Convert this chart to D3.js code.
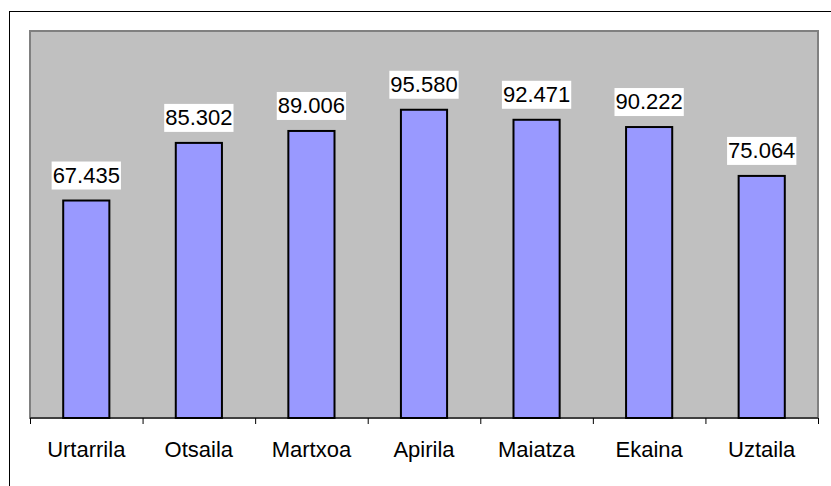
<!DOCTYPE html>
<html><head><meta charset="utf-8">
<script src="https://cdn.jsdelivr.net/npm/d3@7"></script>
<style>body{margin:0;background:#fff}svg{display:block}</style>
</head><body><svg width="831" height="486"></svg>
<script>
const categories = ["Urtarrila","Otsaila","Martxoa","Apirila","Maiatza","Ekaina","Uztaila"];
const values = [67435, 85302, 89006, 95580, 92471, 90222, 75064];
const valueLabels = ["67.435","85.302","89.006","95.580","92.471","90.222","75.064"];
const yDomain = [0, 120000];

const svg = d3.select("svg");
const m = {left:30, right:818, top:31, bottom:418};
const font = "Liberation Sans, Arial, sans-serif";

svg.append("rect").attr("x",9.5).attr("y",11.5).attr("width",840).attr("height",500)
  .attr("fill","#fff").attr("stroke","#000").attr("stroke-width",1);

const x = d3.scaleBand().domain(categories).range([m.left, m.right]).paddingInner(0.59).paddingOuter(0.295);
const xb = d3.scaleBand().domain(categories).range([m.left, m.right]);
const y = d3.scaleLinear().domain(yDomain).range([m.bottom, m.top]);

svg.append("rect").attr("x",m.left).attr("y",m.top).attr("width",m.right-m.left).attr("height",m.bottom-m.top)
  .attr("fill","#C0C0C0").attr("stroke","#808080").attr("stroke-width",2);

svg.selectAll("rect.bar").data(values).join("rect").attr("class","bar")
  .attr("x",(d,i)=>x(categories[i])).attr("width",x.bandwidth())
  .attr("y",d=>y(d)).attr("height",d=>y(0)-y(d))
  .attr("fill","#9999FF").attr("stroke","#000").attr("stroke-width",2);

// axis
const ax = svg.append("g").attr("transform",`translate(0,${m.bottom})`);
ax.append("line").attr("x1",m.left).attr("x2",m.right).attr("stroke","#000").attr("stroke-width",1);
const ticks = categories.map(c=>xb(c)).concat([m.right]);
ax.selectAll("line.t").data(ticks).join("line").attr("class","t")
  .attr("x1",d=>d+0.5).attr("x2",d=>d+0.5).attr("y1",0).attr("y2",6).attr("stroke","#000");
ax.selectAll("text").data(categories).join("text")
  .attr("x",d=>xb(d)+xb.bandwidth()/2).attr("y",39)
  .attr("text-anchor","middle").attr("font-family",font).attr("font-size",22).attr("fill","#000").text(d=>d);

// value labels
const lg = svg.append("g");
values.forEach((v,i)=>{
  const cx = x(categories[i]) + x.bandwidth()/2;
  const g = lg.append("g");
  const t = g.append("text").attr("x",cx).attr("y",y(v)-18).attr("text-anchor","middle")
    .attr("font-family",font).attr("font-size",22).attr("fill","#000").text(valueLabels[i]);
  const b = t.node().getBBox();
  g.insert("rect","text").attr("x",b.x-1).attr("y",b.y-1).attr("width",b.width+2).attr("height",b.height+3).attr("fill","#fff");
});
</script></body></html>
